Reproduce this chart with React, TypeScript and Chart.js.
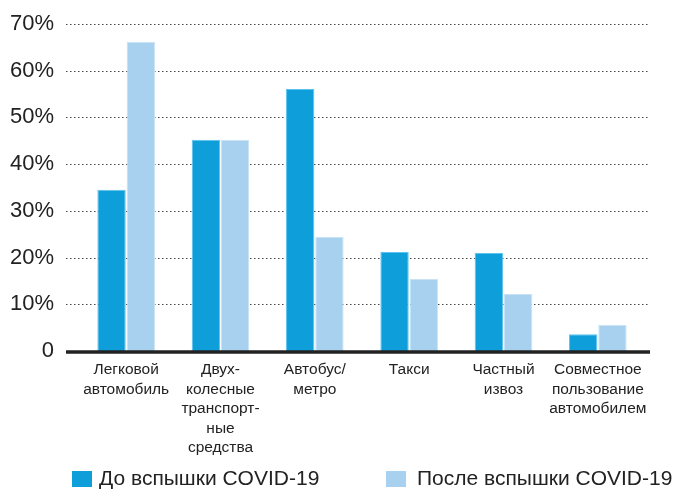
import React, { useEffect, useRef } from "react";
import { Chart, registerables } from "chart.js";

Chart.register(...registerables);

const categories: string[][] = [
  ["Легковой", "автомобиль"],
  ["Двух-", "колесные", "транспорт-", "ные", "средства"],
  ["Автобус/", "метро"],
  ["Такси"],
  ["Частный", "извоз"],
  ["Совместное", "пользование", "автомобилем"],
];
const beforeLabel = "До вспышки COVID-19";
const afterLabel = "После вспышки COVID-19";
const beforeValues = [34.5, 45.2, 56.1, 21.2, 21.0, 3.6];
const afterValues = [66.2, 45.2, 24.4, 15.4, 12.2, 5.6];
const yTicks = [0, 10, 20, 30, 40, 50, 60, 70];

const DARK = "#0E9FDA";
const LIGHT = "#A8D1EF";

const gridPlugin = {
  id: "customGrid",
  beforeDatasetsDraw(chart: any) {
    const { ctx, chartArea, scales } = chart;
    const y = scales.y;
    const x0 = chartArea.left - 13;
    const x1 = chartArea.right + 5;
    ctx.save();
    ctx.strokeStyle = "#444";
    ctx.lineWidth = 1;
    ctx.setLineDash([1.5, 2.5]);
    yTicks.forEach((v) => {
      if (v === 0) return;
      const py = Math.round(y.getPixelForValue(v)) + 0.5;
      ctx.beginPath();
      ctx.moveTo(x0, py);
      ctx.lineTo(x1, py);
      ctx.stroke();
    });
    ctx.restore();
  },
  afterDatasetsDraw(chart: any) {
    const { ctx, chartArea, scales } = chart;
    const y = scales.y;
    const x0 = chartArea.left - 13;
    const x1 = chartArea.right + 5;
    ctx.save();
    ctx.strokeStyle = "#222";
    ctx.lineWidth = 3.5;
    const py = y.getPixelForValue(0) + 1;
    ctx.beginPath();
    ctx.moveTo(x0, py);
    ctx.lineTo(x1, py);
    ctx.stroke();

    // legend
    ctx.font = "21px 'Liberation Sans', Arial, sans-serif";
    ctx.textBaseline = "middle";
    ctx.textAlign = "left";
    const ly = 479;
    ctx.fillStyle = DARK;
    ctx.fillRect(72, ly - 8, 20, 16);
    ctx.fillStyle = "#222";
    ctx.fillText(beforeLabel, 99, ly);
    ctx.fillStyle = LIGHT;
    ctx.fillRect(386, ly - 8, 20, 16);
    ctx.fillStyle = "#222";
    ctx.fillText(afterLabel, 417, ly);
    ctx.restore();
  },
};

export default function App() {
  const ref = useRef<HTMLCanvasElement>(null);
  useEffect(() => {
    if (!ref.current) return;
    const chart = new Chart(ref.current, {
      type: "bar",
      data: {
        labels: categories,
        datasets: [
          {
            label: beforeLabel,
            data: beforeValues,
            backgroundColor: DARK,
            borderColor: "#5CC3EE",
            borderWidth: 1,
            categoryPercentage: 0.62,
            barPercentage: 0.97,
          },
          {
            label: afterLabel,
            data: afterValues,
            backgroundColor: LIGHT,
            borderColor: "#C9E3F6",
            borderWidth: 1,
            categoryPercentage: 0.62,
            barPercentage: 0.97,
          },
        ],
      },
      plugins: [gridPlugin],
      options: {
        animation: false,
        responsive: false,
        maintainAspectRatio: false,
        layout: { padding: { top: 24, right: 29, bottom: 0, left: 0 } },
        plugins: { legend: { display: false }, tooltip: { enabled: false } },
        scales: {
          x: {
            grid: { display: false, drawTicks: false },
            border: { display: false },
            ticks: {
              color: "#222",
              padding: 9,
              maxRotation: 0,
              autoSkip: false,
              font: { family: "'Liberation Sans', Arial, sans-serif", size: 15.5, lineHeight: "19.5px" },
            },
            afterFit(scale: any) {
              scale.height = 489 - 351;
              scale.paddingLeft = 0;
              scale.paddingRight = 0;
            },
          },
          y: {
            min: 0,
            max: 70,
            grid: { display: false, drawTicks: false },
            border: { display: false },
            afterBuildTicks(scale: any) {
              scale.ticks = yTicks.map((v) => ({ value: v }));
            },
            ticks: {
              color: "#222",
              padding: 25,
              font: { family: "'Liberation Sans', Arial, sans-serif", size: 22 },
              callback: (v: any) => (Number(v) === 0 ? "0" : v + "%"),
            },
            afterFit(scale: any) {
              scale.width = 79;
              scale.paddingTop = 0;
              scale.paddingBottom = 0;
            },
          },
        },
      },
    });
    return () => chart.destroy();
  }, []);
  return (
    <div style={{ position: "fixed", left: 0, top: 0, width: 674, height: 489, background: "#fff" }}>
      <canvas ref={ref} width={674} height={489} style={{ display: "block" }} />
    </div>
  );
}
